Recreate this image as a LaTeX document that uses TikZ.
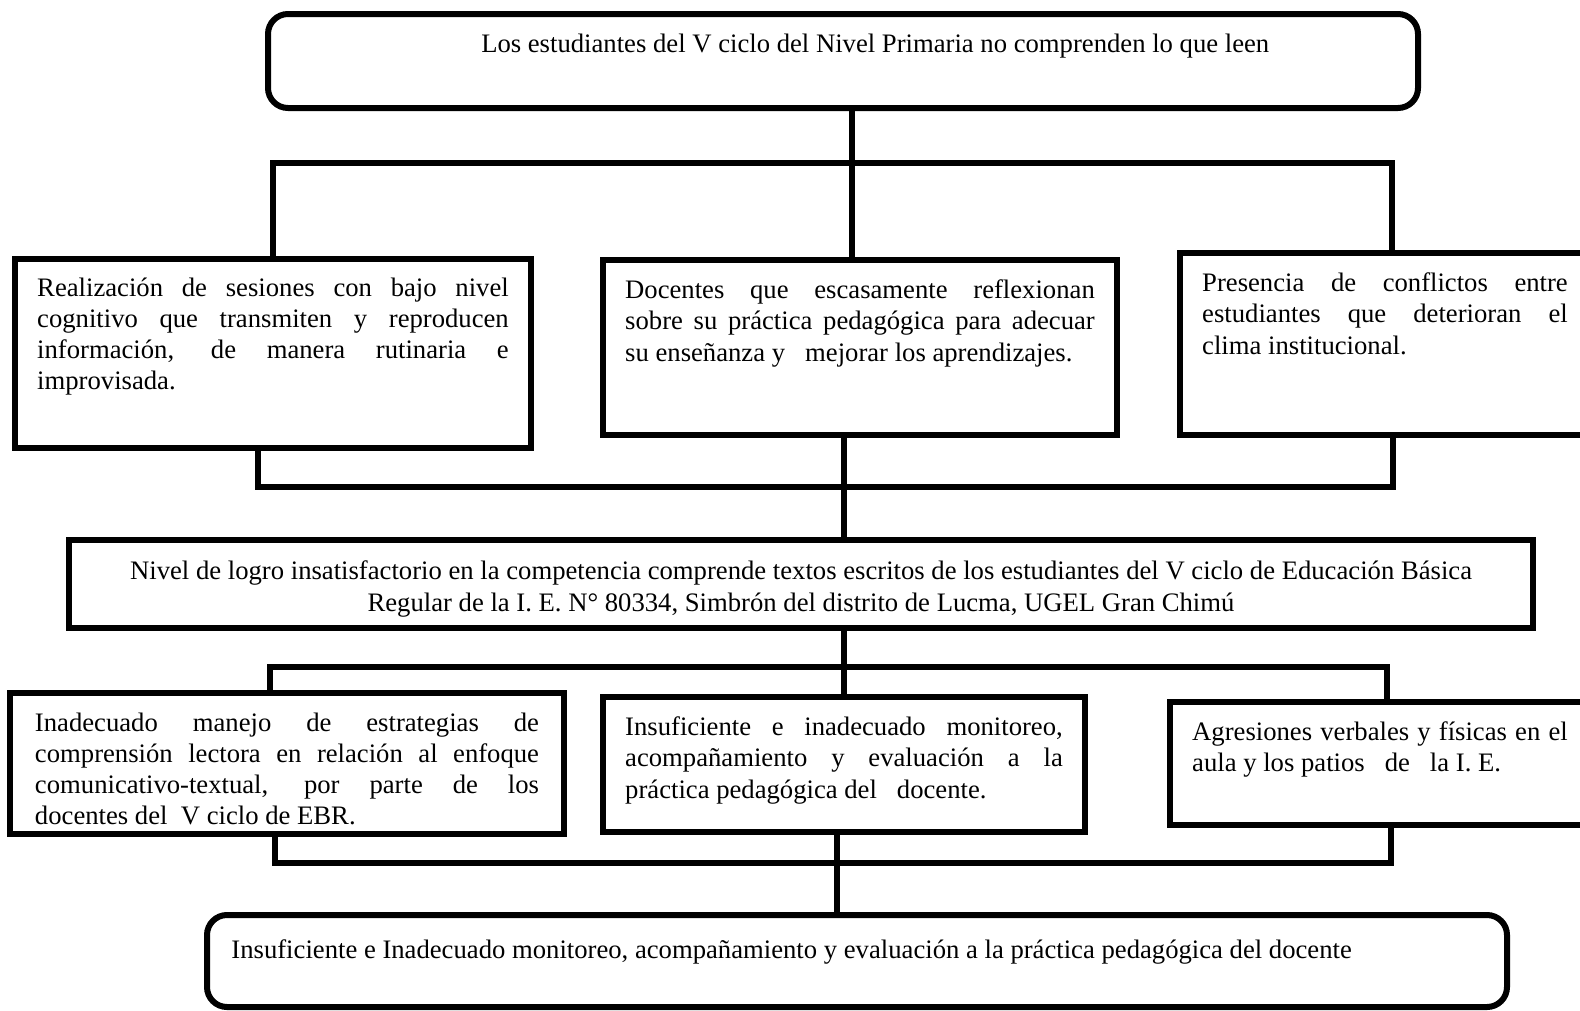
\documentclass[tikz,border=0pt]{standalone}
\usepackage{fontspec}
\setmainfont{Liberation Serif}
\usetikzlibrary{calc, shadows}
\tolerance=10000
\hbadness=10000
\vbadness=10000

\begin{document}
\begin{tikzpicture}[x=0.45pt, y=-0.45pt,
    font=\fontsize{12}{14}\selectfont,
    cbox/.style={draw, line width=2.7pt, fill=white, anchor=north west, outer sep=0pt, inner xsep=10pt, inner ysep=5pt},
    rbox/.style={cbox, rounded corners=9pt},
    link/.style={line width=2.7pt}]
  \useasboundingbox (0,0) rectangle (1580,1010);

  \node [rbox] (problem) at (268,14) {\parbox[t][32.3pt][t]{497.5pt}{\vspace*{4pt}\centering\hspace*{29pt}Los estudiantes del V ciclo del Nivel Primaria no comprenden lo que leen}}; % problem box

  \node [cbox] (causeA) at (15,259) {\parbox[t][75pt][t]{212.2pt}{\vspace*{3.5pt}Realización de sesiones con bajo nivel\linebreak cognitivo que transmiten y reproducen\linebreak información, de manera rutinaria e\linebreak improvisada.}}; % cause box
  \node [cbox, drop shadow={opacity=0.3, shadow xshift=1.5pt, shadow yshift=-1.5pt}] (causeB) at (603,260) {\parbox[t][68.75pt][t]{211.3pt}{\vspace*{4pt}Docentes que escasamente reflexionan\linebreak sobre su práctica pedagógica para adecuar\linebreak su enseñanza y~~~mejorar los aprendizajes.}}; % cause box
  \node [cbox] (causeC) at (1180,253) {\parbox[t][71.9pt][t]{164.5pt}{\vspace*{4pt}Presencia de conflictos entre\linebreak estudiantes que deterioran el\linebreak clima institucional.}}; % cause box

  \node [cbox] (nivel) at (69,540) {\parbox[t][29.6pt][t]{638.8pt}{\vspace*{4.5pt}\centering Nivel de logro insatisfactorio en la competencia comprende textos escritos de los estudiantes del V ciclo de Educación Básica\\ Regular de la I. E. N° 80334, Simbrón del distrito de Lucma, UGEL Gran Chimú}}; % central box

  \node [cbox, inner xsep=11.25pt] (effD) at (10,693) {\parbox[t][53.45pt][t]{226.8pt}{\vspace*{4pt}Inadecuado manejo de estrategias de\linebreak comprensión lectora en relación al enfoque\linebreak comunicativo-textual, por parte de los\linebreak docentes del~~V ciclo de EBR.}}; % effect box
  \node [cbox] (effE) at (603,697) {\parbox[t][50.75pt][t]{196.9pt}{\vspace*{4pt}Insuficiente e inadecuado monitoreo,\linebreak acompañamiento y evaluación a la\linebreak práctica pedagógica del~~~docente.}}; % effect box
  \node [cbox] (effF) at (1170,702) {\parbox[t][45.35pt][t]{169pt}{\vspace*{4pt}Agresiones verbales y físicas en el\linebreak aula y los patios~~~de~~~la I. E.}}; % effect box

  \node [rbox, inner xsep=11pt] (final) at (207,915) {\parbox[t][31.4pt][t]{563pt}{\vspace*{6pt}Insuficiente e Inadecuado monitoreo, acompañamiento y evaluación a la práctica pedagógica del docente}}; % final box

  \coordinate (upbar) at (852,163);
  \coordinate (lowbar) at (844,487);
  \coordinate (effbar) at (844,667);
  \coordinate (botbar) at (837,863);

  \draw [link] (problem.south -| upbar) -- (upbar |- causeB.north);
  \draw [link] (causeA.north) |- (upbar) -| ([xshift=3pt]causeC.north);

  \draw [link] ([xshift=-6.75pt]causeA.south) |- (lowbar) -| ([xshift=3.5pt]causeC.south);
  \draw [link] (causeB.south -| lowbar) -- (lowbar |- nivel.north);

  \draw [link] (nivel.south -| effbar) -- (effbar |- effE.north);
  \draw [link] ([xshift=-7.65pt]effD.north) |- (effbar) -| ([xshift=3.15pt]effF.north);

  \draw [link] ([xshift=-5.4pt]effD.south) |- (botbar) -| ([xshift=5pt]effF.south);
  \draw [link] (effE.south -| botbar) -- (botbar |- final.north);
\end{tikzpicture}
\end{document}
